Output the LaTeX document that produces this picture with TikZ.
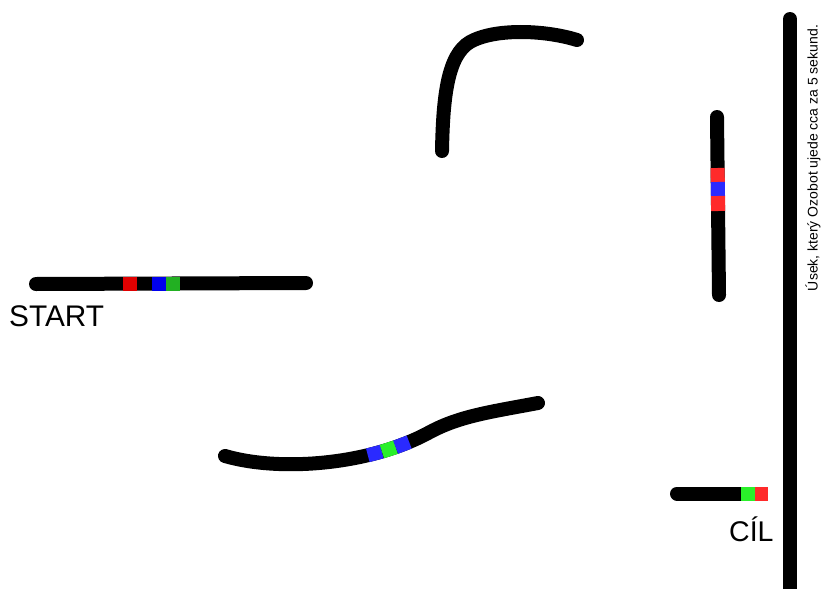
\documentclass[tikz,border=0pt]{standalone}
\usepackage{fontspec}
\setmainfont{Liberation Sans}
\definecolor{darkred}{HTML}{E00000}
\definecolor{darkblue}{HTML}{0000EE}
\definecolor{darkgreen}{HTML}{22B022}
\definecolor{codered}{HTML}{FF2A2A}
\definecolor{codeblue}{HTML}{2A2AFF}
\definecolor{codegreen}{HTML}{2AF02A}
\begin{document}
\begin{tikzpicture}[
    x=1pt, y=-1pt,
    track/.style={line width=14pt, line cap=round, black},
    band/.style={line width=14pt, line cap=butt},
    chip/.style={rectangle, inner sep=0pt, minimum width=14.5pt, minimum height=14pt, sloped},
    lab/.style={inner sep=0pt, font=\fontsize{28.5}{30}\selectfont}
  ]
  \useasboundingbox (0,0) rectangle (822,589);

  % start piece
  \draw[track] (36,284) -- (306,283);
  \draw[band, darkred]   (123,283.6) -- (137,283.6);
  \draw[band, darkblue]  (152,283.5) -- (166,283.5);
  \draw[band, darkgreen] (166,283.5) -- (180,283.5);
  \node[lab, anchor=base west, font=\fontsize{29.8}{31}\selectfont] (start) at (9,326) {START};

  % bend at the top
  \draw[track] (442,151) .. controls (443,95) and (448,55) .. (470,42)
    .. controls (495,28) and (545,30) .. (577,40);

  % wavy piece
  \draw[track] (225,456) .. controls (280,472) and (370,465) .. (430,432)
      node[chip, fill=codeblue, pos=0.724] (wave b1) {}
      node[chip, fill=codegreen, pos=0.79] (wave g) {}
      node[chip, fill=codeblue, pos=0.856] (wave b2) {}
    .. controls (460,416) and (490,412) .. (538,403);

  % vertical piece
  \draw[track] (717,117) -- (719,295);
  \draw[band, codered]  (717.6,168) -- (717.8,182);
  \draw[band, codeblue] (717.8,182) -- (718,196);
  \draw[band, codered]  (718,196) -- (718.1,211);

  % goal piece
  \draw[track] (677,493.5) -- (755,493.5);
  \draw[band, codegreen] (741,493.5) -- (755,493.5);
  \draw[band, codered]   (755,493.5) -- (768,493.5);
  \node[lab, anchor=base west] (goal) at (729,541) {CÍL};

  % 5 second segment
  \draw[track] (790,19) -- (790,600);
  \node[rotate=90, inner sep=0pt, font=\fontsize{14}{16}\selectfont] (note) at (813,158)
    {Úsek, který Ozobot ujede cca za 5 sekund.};
\end{tikzpicture}
\end{document}
